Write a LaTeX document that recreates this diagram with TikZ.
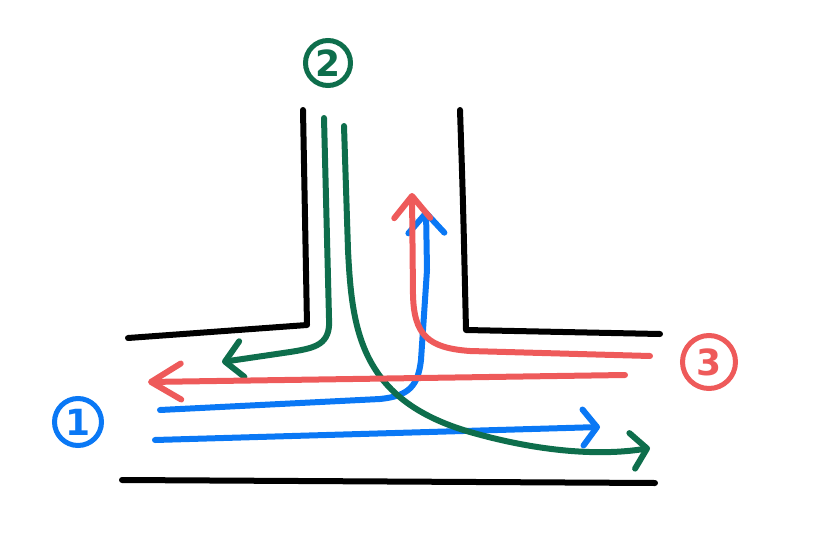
\documentclass[tikz,border=0pt]{standalone}
\usepackage{fontspec}
\setsansfont{DejaVu Sans}
\usepackage{xcolor}
\usetikzlibrary{arrows.meta}
\definecolor{flowblue}{HTML}{0A78F5}
\definecolor{flowgreen}{HTML}{0E6E4C}
\definecolor{flowred}{HTML}{EE5A5A}

\tikzset{
  inkline/.style={line width=6pt, line cap=round, line join=round},
  headbarb/.style={-{Straight Barb[length=#1, width=36pt, round]}},
  routetag/.style={circle, draw=#1, text=#1, line width=5pt, inner sep=0pt,
    font=\sffamily\bfseries\fontsize{36}{36}\selectfont}
}

\begin{document}
\begin{tikzpicture}[x=1pt, y=-1pt]
    \useasboundingbox (0,0) rectangle (824,554);

    % road edges
    \draw[inkline] (303,110) -- (307,325) -- (128,338);
    \draw[inkline] (460,110) .. controls (463,200) .. (466,330) -- (660,334);
    \draw[inkline] (122,480) -- (655,483);

    % route 1
    \draw[inkline, flowblue, headbarb=20pt] (160,410) -- (380,399)
      .. controls (410,396) and (418,385) .. (421,360) -- (427,270) -- (426,210);
    \draw[inkline, flowblue, headbarb=14pt] (155,440) -- (600,427);

    % route 2
    \draw[inkline, flowgreen, headbarb=17pt] (324,118) -- (329,318)
      .. controls (331,345) and (315,348) .. (290,352) -- (222,362);
    \draw[inkline, flowgreen, headbarb=15pt] (344,126) -- (348,250)
      .. controls (352,330) and (360,400) .. (470,432)
      .. controls (540,452) and (600,456) .. (650,448);

    % route 3
    \draw[inkline, flowred, headbarb=22pt] (650,356) -- (470,351)
      .. controls (428,348) and (414,335) .. (413,295) -- (412,193);
    \draw[inkline, flowred, headbarb=30pt] (625,375) -- (148,382);

    \node[routetag=flowblue, minimum size=47pt] (one) at (78,422) {1};
    \node[routetag=flowgreen, minimum size=45pt] (two) at (328,63) {2};
    \node[routetag=flowred, minimum size=53pt] (three) at (709,362) {3};
\end{tikzpicture}
\end{document}
